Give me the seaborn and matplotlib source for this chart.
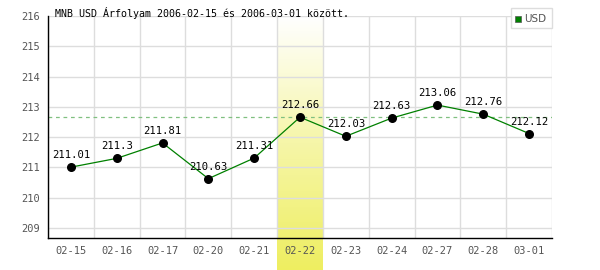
import numpy as np
import matplotlib
matplotlib.use("Agg")
import matplotlib.pyplot as plt
import seaborn as sns
import pandas as pd
from matplotlib.colors import LinearSegmentedColormap
from matplotlib.patches import Rectangle

dates = ["02-15", "02-16", "02-17", "02-20", "02-21", "02-22",
         "02-23", "02-24", "02-27", "02-28", "03-01"]
values = [211.01, 211.3, 211.81, 210.63, 211.31, 212.66,
          212.03, 212.63, 213.06, 212.76, 212.12]
highlight = "02-22"
title = "MNB USD Árfolyam 2006-02-15 és 2006-03-01 között."
series = "USD"
yticks = [209, 210, 211, 212, 213, 214, 215, 216]

sns.set_style("white")
plt.rcParams['font.family'] = ['DejaVu Sans Mono', 'DejaVu Sans']

df = pd.DataFrame({"x": np.arange(len(dates)), "v": values})

fig = plt.figure(figsize=(6, 2.7), dpi=100)
ax = fig.add_axes([0.08, 0.1185, 0.84, 0.822])

ylo, yhi = 208.67, 216.0
hi = dates.index(highlight)
cmap = LinearSegmentedColormap.from_list("hl", ["#ffffff", "#f6f6a8", "#eeee60"])
grad = np.linspace(0, 1, 256).reshape(-1, 1)
ax.imshow(grad, extent=(hi - 0.5, hi + 0.5, 207.6, yhi), origin="upper",
          aspect="auto", cmap=cmap, zorder=0, clip_on=False)

ax.axhline(values[hi], color="#80c080", lw=0.9, ls=(0, (3, 3)), zorder=1)

sns.lineplot(data=df, x="x", y="v", ax=ax, color="green", lw=0.9, zorder=3,
             label=series, legend=False)
ax.scatter(df["x"], df["v"], s=30, color="black", zorder=4)

for xi, v in zip(df["x"], values):
    ax.annotate(f"{v:g}", (xi, v), xytext=(0, 5), textcoords="offset points",
                ha="center", va="bottom", fontsize=7.6, color="black", zorder=5)

ax.set_xlim(-0.5, len(dates) - 0.5)
ax.set_ylim(ylo, yhi)
ax.set_xticks(np.arange(len(dates)))
ax.set_xticklabels(dates)
ax.set_xticks(np.arange(len(dates) + 1) - 0.5, minor=True)
ax.set_yticks(yticks)
ax.grid(True, which="minor", axis="x", color="#dddddd", lw=1, zorder=0)
ax.grid(True, which="major", axis="y", color="#dddddd", lw=1, zorder=0)
ax.set_axisbelow(True)
ax.tick_params(axis="both", which="both", length=0, labelsize=7.5,
               colors="#555555", pad=6)
ax.set_xlabel("")
ax.set_ylabel("")
for s in ["top", "right"]:
    ax.spines[s].set_visible(False)
for s in ["left", "bottom"]:
    ax.spines[s].set_color("black")
    ax.spines[s].set_linewidth(1)
    ax.spines[s].set_zorder(6)

fig.text(55 / 600, 1 - 13 / 270, title, fontsize=7.2, color="black",
         va="center", ha="left")

lx0, ly0, lw_, lh = 511 / 600, 1 - 28 / 270, 41 / 600, 20 / 270
fig.patches.append(Rectangle((lx0, ly0), lw_, lh, transform=fig.transFigure,
                             facecolor="white", edgecolor="#dddddd", lw=1, zorder=10))
fig.patches.append(Rectangle((515 / 600, 1 - 22 / 270), 6 / 600, 6 / 270,
                             transform=fig.transFigure, facecolor="green",
                             edgecolor="#555555", lw=0.5, zorder=11))
fig.text(524 / 600, 1 - 18.5 / 270, series, fontsize=7.5, color="#555555",
         va="center", ha="left", family="DejaVu Sans", zorder=12)

fig.savefig("out.png", dpi=100)
